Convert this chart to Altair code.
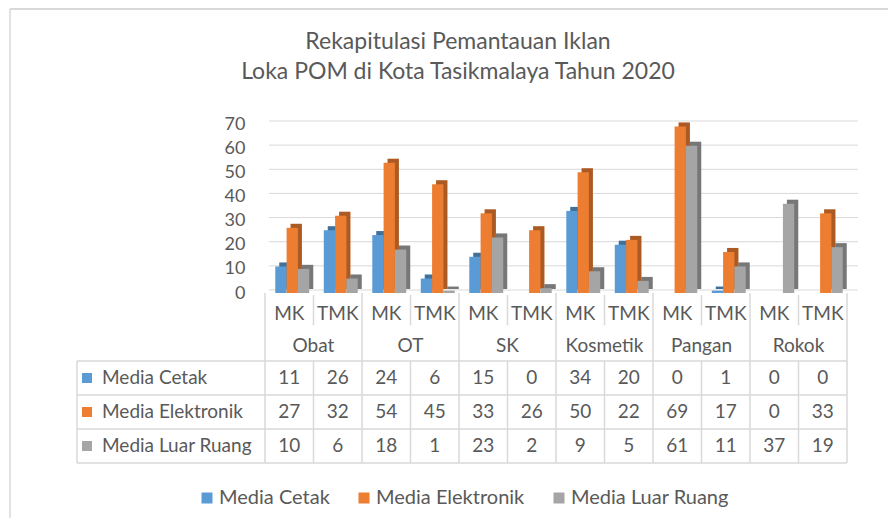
import altair as alt
import pandas as pd

# ---------------- data ----------------
groups = ["Obat", "OT", "SK", "Kosmetik", "Pangan", "Rokok"]
subs = ["MK", "TMK"]
series = ["Media Cetak", "Media Elektronik", "Media Luar Ruang"]
media_cetak = [11, 26, 24, 6, 15, 0, 34, 20, 0, 1, 0, 0]
media_elektronik = [27, 32, 54, 45, 33, 26, 50, 22, 69, 17, 0, 33]
media_luar_ruang = [10, 6, 18, 1, 23, 2, 9, 5, 61, 11, 37, 19]
y_ticks = [0, 10, 20, 30, 40, 50, 60, 70]
title_lines = ["Rekapitulasi Pemantauan Iklan", "Loka POM di Kota Tasikmalaya Tahun 2020"]

# ---------------- style ----------------
colors = ["#5B9BD5", "#ED7D31", "#A5A5A5"]
FONT = "Lato"
TXT = "#595959"
GRID = "#D9D9D9"
FS = 19
W, H = 582, 169
BW = 48.5 * 0.7  # cluster width inside each column

cats = [f"{g} {s}" for g in groups for s in subs]
values = [media_cetak, media_elektronik, media_luar_ruang]

recs = []
for i, c in enumerate(cats):
    for k, name in enumerate(series):
        recs.append(dict(cat=c, idx=i, series=name, value=values[k][i],
                         xc=i + 0.5, yr=2.5 + k))
df = pd.DataFrame(recs)

sub_df = pd.DataFrame([dict(label=subs[i % 2], xc=i + 0.5, yr=0.5) for i in range(12)])
grp_df = pd.DataFrame([dict(label=g, xc=2 * j + 1, yr=1.5) for j, g in enumerate(groups)])
hdr_df = pd.DataFrame([dict(series=s, yr=2.5 + k) for k, s in enumerate(series)])
grid_df = pd.DataFrame({"g": y_ticks})
hline_df = pd.DataFrame({"yl": [2, 3, 4, 5]})
vfull_df = pd.DataFrame({"xl": list(range(13)), "y0": 2, "y1": 5})
vgrp_df = pd.DataFrame({"xl": list(range(0, 13, 2)), "y0": 0, "y1": 2})
vsub_df = pd.DataFrame({"xl": list(range(1, 12, 2)), "y0": 0.06, "y1": 0.95})
title_df = pd.DataFrame({"t": title_lines, "ty": [-82, -52]})
one = pd.DataFrame({"a": [0]})

# ---------------- scales ----------------
yscale = alt.Scale(domain=[0, 70], nice=False, zero=True)
yaxis = alt.Axis(values=y_ticks, grid=False, domain=False, ticks=False,
                 labelPadding=20, labelFont=FONT, labelFontSize=18,
                 labelColor=TXT, title=None)
xband = alt.X("cat:N", sort=cats, axis=None,
              scale=alt.Scale(domain=cats, paddingInner=0.3, paddingOuter=0.15))


def xoff(shift):
    return alt.XOffset("series:N", sort=series,
                       scale=alt.Scale(domain=series, range=[shift, shift + BW]))


legend = alt.Legend(title=None, orient="none", legendX=-68, legendY=364,
                    direction="horizontal",
                    symbolType="square", symbolSize=121,
                    symbolOpacity=1, symbolStrokeWidth=0,
                    labelFont=FONT, labelFontSize=20,
                    labelColor=TXT, labelOffset=2, columnPadding=24, padding=0)
cscale = alt.Scale(domain=series, range=colors)
color_enc = alt.Color("series:N", scale=cscale, legend=legend)

tx = alt.Scale(domain=[0, 12], nice=False, zero=False)
ty = alt.Scale(domain=[0, 5], range=[H, H + 170], nice=False, zero=False)
px = alt.Scale(domain=[0, 100], range=[0, 100], nice=False, zero=False)

# ---------------- bar part ----------------
grid = alt.Chart(grid_df).mark_rule(color=GRID, strokeWidth=1, yOffset=-3).encode(
    y=alt.Y("g:Q", scale=yscale, axis=yaxis),
    x=alt.value(4), x2=alt.value(W + 11))

yv = alt.Y("value:Q", scale=yscale, axis=yaxis)

side = alt.Chart(df).mark_bar(yOffset=-4, y2Offset=-2).encode(
    x=xband, xOffset=xoff(7), y=yv, color=color_enc)
side_dark = alt.Chart(df).mark_bar(yOffset=-4, y2Offset=-2, opacity=0.28).encode(
    x=xband, xOffset=xoff(7), y=yv, color=alt.value("black"))
bars = alt.Chart(df).mark_bar().encode(
    x=xband, xOffset=xoff(3), y=yv, color=color_enc)

bar_part = alt.layer(grid, side, side_dark, bars).resolve_scale(xOffset="independent")

# ---------------- table part ----------------
def vrule(d):
    return alt.Chart(d).mark_rule(color=GRID, strokeWidth=1.5).encode(
        x=alt.X("xl:Q", scale=tx, axis=None),
        y=alt.Y("y0:Q", scale=ty, axis=None), y2="y1:Q")


hlines = alt.Chart(hline_df).mark_rule(color=GRID, strokeWidth=1.5).encode(
    y=alt.Y("yl:Q", scale=ty, axis=None),
    x=alt.value(-188), x2=alt.value(W))
left_edge = alt.Chart(pd.DataFrame({"y0": [2], "y1": [5]})).mark_rule(
    color=GRID, strokeWidth=1.5).encode(
    x=alt.value(-188), y=alt.Y("y0:Q", scale=ty, axis=None), y2="y1:Q")


def txt(d, field, dy=0):
    return alt.Chart(d).mark_text(font=FONT, fontSize=FS, color=TXT, dy=dy,
                                  baseline="middle").encode(
        x=alt.X("xc:Q", scale=tx, axis=None),
        y=alt.Y("yr:Q", scale=ty, axis=None),
        text=field)


sub_txt = txt(sub_df, "label:N", dy=4)
grp_txt = txt(grp_df, "label:N", dy=2)
val_txt = txt(df, "value:Q")

hdr_sq = alt.Chart(hdr_df).mark_square(size=100, opacity=1).encode(
    x=alt.value(-178), y=alt.Y("yr:Q", scale=ty, axis=None), color=color_enc)
hdr_txt = alt.Chart(hdr_df).mark_text(font=FONT, fontSize=FS, color=TXT, align="left",
                                      baseline="middle").encode(
    x=alt.value(-163), y=alt.Y("yr:Q", scale=ty, axis=None), text="series:N")

border_top = alt.Chart(one).mark_rule(color=GRID, strokeWidth=2).encode(
    x=alt.value(-255), x2=alt.value(631), y=alt.value(-115), y2=alt.value(-115))
border_left = alt.Chart(one).mark_rule(color=GRID, strokeWidth=1.5).encode(
    x=alt.value(-255), x2=alt.value(-255), y=alt.value(-115), y2=alt.value(410))

table_part = alt.layer(hlines, left_edge, vrule(vfull_df), vrule(vgrp_df), vrule(vsub_df),
                       sub_txt, grp_txt, val_txt, hdr_sq, hdr_txt,
                       border_top, border_left)

title_part = alt.Chart(title_df).mark_text(font=FONT, fontSize=23, color=TXT,
                                           baseline="middle").encode(
    x=alt.value(193),
    y=alt.Y("ty:Q", scale=px, axis=None),
    text="t:N")

chart = alt.layer(bar_part, table_part, title_part).resolve_scale(
    x="independent", y="independent"
).properties(
    width=W, height=H,
    autosize=alt.AutoSizeParams(type="none"),
    padding={"left": 257, "top": 116, "right": 41, "bottom": 225},
    background="white",
).configure_view(stroke=None)

chart.save("out.html", embed_options={"renderer": "svg", "actions": False})
